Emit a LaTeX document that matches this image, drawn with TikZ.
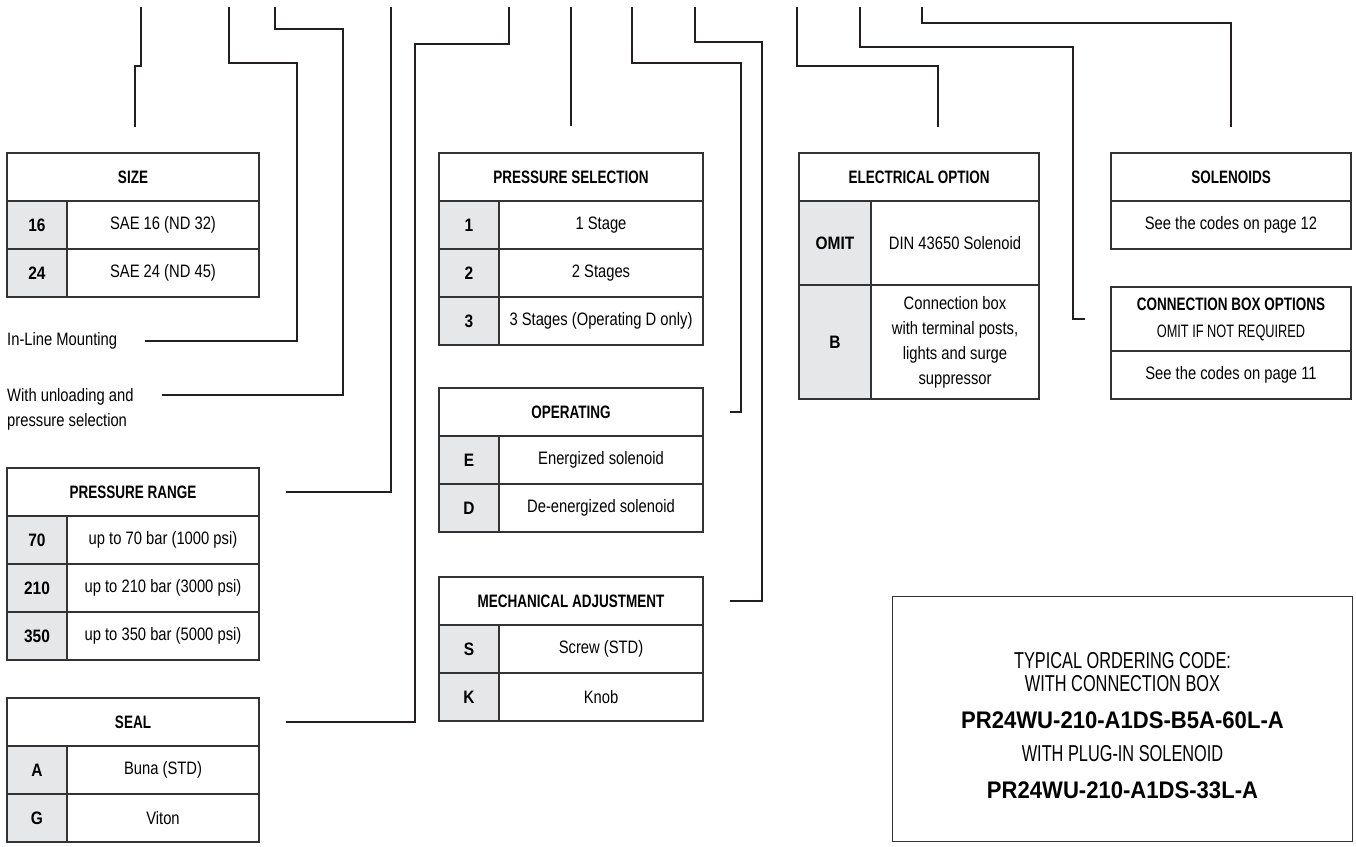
\documentclass[tikz,border=0pt]{standalone}
\usepackage{fontspec}
\setmainfont{Liberation Sans}[FakeStretch=0.82]
\newfontfamily\headfont{Liberation Sans}[FakeStretch=0.75]
\newfontfamily\keyfont{Liberation Sans}[FakeStretch=0.86]
\newfontfamily\capsfont{Liberation Sans}[FakeStretch=0.71]
\newfontfamily\codefont{Liberation Sans}[FakeStretch=0.92]
\usetikzlibrary{positioning}

\definecolor{keygray}{HTML}{E6E7E8}
\definecolor{bordergray}{HTML}{333333}
\definecolor{linedark}{HTML}{231F20}

\tikzset{
  cell/.style={draw=bordergray, line width=1.2pt, inner sep=0pt, outer sep=0pt,
    minimum height=48pt, align=center, font=\fontsize{18}{25}\selectfont},
  head/.style={cell, font=\headfont\bfseries\fontsize{18}{25}\selectfont},
  key/.style={cell, fill=keygray, minimum width=60pt,
    font=\keyfont\bfseries\fontsize{18}{25}\selectfont},
  val/.style={cell},
  note/.style={inner sep=0pt, align=left, font=\fontsize{18}{25}\selectfont},
  conn/.style={draw=linedark, line width=1.3pt}
}

\begin{document}
\begin{tikzpicture}[x=1pt, y=-1pt]
\fill[white] (0,0) rectangle (1356,846);
\useasboundingbox (0,0) rectangle (1356,846);

% code positions along the top
\foreach \n/\x in {1/141, 2/229, 3/275, 4/391, 5/509, 6/571, 7/632, 8/695, 9/797, 10/860, 11/922}
  \coordinate (t\n) at (\x,7);

% size
\node[head, minimum width=252pt, anchor=north west] (size) at (7,153) {SIZE};
\node[key, below right=0pt of size.south west] (k16) {16};
\node[val, minimum width=192pt, right=0pt of k16] (v16) {SAE 16 (ND 32)};
\node[key, below=0pt of k16] (k24) {24};
\node[val, minimum width=192pt, right=0pt of k24] (v24) {SAE 24 (ND 45)};

% notes
\node[note, anchor=west] (mount) at (7,341) {In-Line Mounting};
\node[note, anchor=north west] (unload) at (7,388) {With unloading and\\pressure selection};

% pressure range
\node[head, minimum width=252pt, anchor=north west] (range) at (7,468) {PRESSURE RANGE};
\node[key, below right=0pt of range.south west] (k70) {70};
\node[val, minimum width=192pt, right=0pt of k70] (v70) {up to 70 bar (1000 psi)};
\node[key, below=0pt of k70] (k210) {210};
\node[val, minimum width=192pt, right=0pt of k210] (v210) {up to 210 bar (3000 psi)};
\node[key, below=0pt of k210] (k350) {350};
\node[val, minimum width=192pt, right=0pt of k350] (v350) {up to 350 bar (5000 psi)};

% seal
\node[head, minimum width=252pt, anchor=north west] (seal) at (7,698) {SEAL};
\node[key, below right=0pt of seal.south west] (ka) {A};
\node[val, minimum width=192pt, right=0pt of ka] (va) {Buna (STD)};
\node[key, below=0pt of ka] (kg) {G};
\node[val, minimum width=192pt, right=0pt of kg] (vg) {Viton};

% pressure selection
\node[head, minimum width=264pt, anchor=north west] (psel) at (439,153) {PRESSURE SELECTION};
\node[key, below right=0pt of psel.south west] (k1) {1};
\node[val, minimum width=204pt, right=0pt of k1] (v1) {1 Stage};
\node[key, below=0pt of k1] (k2) {2};
\node[val, minimum width=204pt, right=0pt of k2] (v2) {2 Stages};
\node[key, below=0pt of k2] (k3) {3};
\node[val, minimum width=204pt, right=0pt of k3] (v3) {3 Stages (Operating D only)};

% operating
\node[head, minimum width=264pt, anchor=north west] (oper) at (439,388) {OPERATING};
\node[key, below right=0pt of oper.south west] (ke) {E};
\node[val, minimum width=204pt, right=0pt of ke] (ve) {Energized solenoid};
\node[key, below=0pt of ke] (kd) {D};
\node[val, minimum width=204pt, right=0pt of kd] (vd) {De-energized solenoid};

% mechanical adjustment
\node[head, minimum width=264pt, anchor=north west] (mech) at (439,577) {MECHANICAL ADJUSTMENT};
\node[key, below right=0pt of mech.south west] (ks) {S};
\node[val, minimum width=204pt, right=0pt of ks] (vs) {Screw (STD)};
\node[key, below=0pt of ks] (kk) {K};
\node[val, minimum width=204pt, right=0pt of kk] (vk) {Knob};

% electrical option
\node[head, minimum width=240pt, anchor=north west] (elec) at (799,153) {ELECTRICAL OPTION};
\node[key, minimum width=72pt, minimum height=84pt, below right=0pt of elec.south west] (komit) {OMIT};
\node[val, minimum width=168pt, minimum height=84pt, right=0pt of komit] (vomit) {DIN 43650 Solenoid};
\node[key, minimum width=72pt, minimum height=114pt, below=0pt of komit] (kb) {B};
\node[val, minimum width=168pt, minimum height=114pt, right=0pt of kb] (vb) {Connection box\\with terminal posts,\\lights and surge\\suppressor};

% solenoids
\node[head, minimum width=240pt, anchor=north west] (sol) at (1111,153) {SOLENOIDS};
\node[val, minimum width=240pt, below right=0pt of sol.south west] (solv) {See the codes on page 12};

% connection box options
\node[head, minimum width=240pt, minimum height=64pt, anchor=north west] (cbox) at (1111,287)
  {CONNECTION BOX OPTIONS\\[2pt]{\capsfont\mdseries OMIT IF NOT REQUIRED}};
\node[val, minimum width=240pt, below right=0pt of cbox.south west] (cboxv) {See the codes on page 11};

% ordering code
\node[draw=bordergray, line width=1pt, minimum width=460pt, minimum height=245pt, anchor=north west] (order) at (892,596) {};
\node[inner sep=0pt, align=center, font=\fontsize{23}{23}\selectfont] (code) at ([yshift=-6.75pt]order.center)
  {{\capsfont TYPICAL ORDERING CODE:}\\
   {\capsfont WITH CONNECTION BOX}\\[14pt]
   {\codefont\bfseries\fontsize{24}{24}\selectfont PR24WU-210-A1DS-B5A-60L-A}\\[10pt]
   {\capsfont WITH PLUG-IN SOLENOID}\\[14pt]
   {\codefont\bfseries\fontsize{24}{24}\selectfont PR24WU-210-A1DS-33L-A}};

% connectors
\draw[conn] (t1) -- (141,66) -- (135,66) -- ([xshift=2pt, yshift=26pt]size.north);
\draw[conn] (t2) |- (297,63) |- ([xshift=28pt]mount.east);
\draw[conn] (t3) |- (343,29) |- ([shift={(28,7)}]unload.north east);
\draw[conn] (t4) |- ([xshift=27pt]range.east);
\draw[conn] (t5) |- (415,44) |- ([xshift=27pt]seal.east);
\draw[conn] (t6) -- ([yshift=27pt]psel.north);
\draw[conn] (t7) |- (741,63) |- ([xshift=27pt]oper.east);
\draw[conn] (t8) |- (762,42) |- ([xshift=27pt]mech.east);
\draw[conn] (t9) |- (938,66) -- ([xshift=19pt, yshift=26pt]elec.north);
\draw[conn] (t10) |- (1073,47) |- ([xshift=-26pt]cbox.west);
\draw[conn] (t11) |- (1231,23) -- ([yshift=26pt]sol.north);
\end{tikzpicture}
\end{document}
